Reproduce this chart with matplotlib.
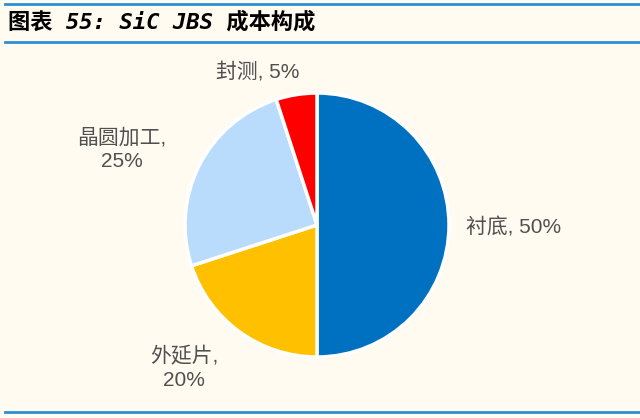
import matplotlib.pyplot as plt

plt.rcParams['font.family'] = ['Noto Sans CJK SC', 'DejaVu Sans']

# 成本构成 (%)
labels = ['衬底, 50%', '外延片,\n20%', '晶圆加工,\n25%', '封测, 5%']
values = [50, 20, 25, 5]
colors = ['#0070C0', '#FFC000', '#B9DCFC', '#FF0000']

bg = '#FFFBF0'
fig = plt.figure(figsize=(6.4, 4.18), dpi=100, facecolor=bg)
ax = fig.add_axes([0, 0, 1, 1])
ax.set_xlim(0, 640)
ax.set_ylim(0, 418)
ax.set_aspect('equal')
ax.axis('off')

wedges, _ = ax.pie(values, colors=colors, startangle=90, counterclock=False,
                   center=(317, 193), radius=132,
                   wedgeprops=dict(edgecolor='white', linewidth=2.5))
ax.set_xlim(0, 640)
ax.set_ylim(0, 418)

# 标签位置
label_pos = [(466, 191, 'left'), (184, 50, 'center'), (122, 269, 'center'), (258, 346, 'center')]
for txt, (x, y, ha) in zip(labels, label_pos):
    ax.text(x, y, txt, ha=ha, va='center', fontsize=15, color='#505050',
            linespacing=1.3, family=['Liberation Sans', 'Noto Sans CJK SC'])

# 标题和横线
ax.text(8, 396, '图表 55: SiC JBS 成本构成', fontsize=16, fontweight='bold',
        fontstyle='italic', color='black', va='center', ha='left',
        family=['DejaVu Sans Mono', 'Noto Sans CJK SC'])
ax.plot([5, 640], [414, 414], color='#2E8FD3', lw=2)
ax.plot([5, 640], [376, 376], color='#2E8FD3', lw=2)
ax.plot([5, 640], [6, 6], color='#2E8FD3', lw=2)

fig.savefig('out.png', dpi=100, facecolor=bg)
